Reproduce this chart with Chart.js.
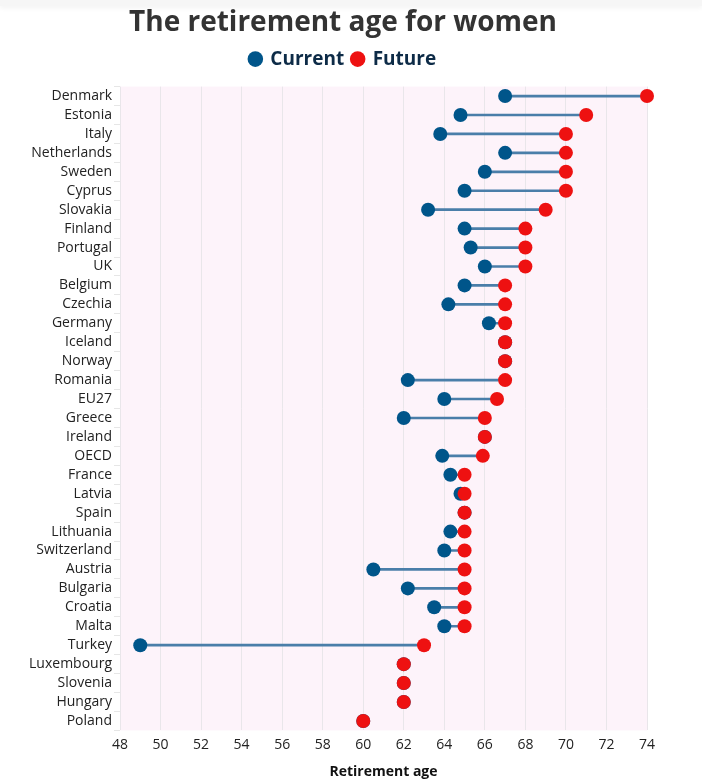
<!DOCTYPE html>
<html>
<head>
<meta charset="utf-8">
<script src="https://cdn.jsdelivr.net/npm/chart.js@4"></script>
<style>
  html, body { margin: 0; padding: 0; background: #fff; }
  #wrap { position: relative; width: 702px; height: 782px; }
  #topbar { position: absolute; left: 0; top: 0; width: 702px; height: 6px;
            background: #f6f6f6; box-shadow: 0 2px 5px rgba(0,0,0,0.05); z-index: 2; }
</style>
</head>
<body>
<div id="wrap">
  <div id="topbar"></div>
  <canvas id="chart"></canvas>
</div>
<script>
// data
const countries = ['Denmark', 'Estonia', 'Italy', 'Netherlands', 'Sweden', 'Cyprus', 'Slovakia',
    'Finland', 'Portugal', 'UK', 'Belgium', 'Czechia', 'Germany', 'Iceland', 'Norway', 'Romania',
    'EU27', 'Greece', 'Ireland', 'OECD', 'France', 'Latvia', 'Spain', 'Lithuania', 'Switzerland',
    'Austria', 'Bulgaria', 'Croatia', 'Malta', 'Turkey', 'Luxembourg', 'Slovenia', 'Hungary', 'Poland'];

const currentAge = [67, 64.8, 63.8, 67, 66, 65, 63.2,
    65, 65.3, 66, 65, 64.2, 66.2, 67, 67, 62.2,
    64, 62, 66, 63.9, 64.3, 64.8, 65, 64.3, 64,
    60.5, 62.2, 63.5, 64, 49, 62, 62, 62, 60];

const futureAge = [74, 71, 70, 70, 70, 70, 69,
    68, 68, 68, 67, 67, 67, 67, 67, 67,
    66.6, 66, 66, 65.9, 65, 65, 65, 65, 65,
    65, 65, 65, 65, 63, 62, 62, 62, 60];

const xTicks = [48, 50, 52, 54, 56, 58, 60, 62, 64, 66, 68, 70, 72, 74];

const blue = '#00558a';
const red = '#ee1111';
const FONT = "'Open Sans', sans-serif";

// pink plot background
const plotBg = {
    id: 'plotBg',
    beforeDraw(chart) {
        const { ctx, chartArea: a } = chart;
        ctx.save();
        ctx.fillStyle = '#fdf3fa';
        ctx.fillRect(a.left, a.top, a.right - a.left, a.bottom - a.top);
        ctx.restore();
    }
};

// invisible axis used only to reserve space
const spacer = (position, size) => ({
    type: 'linear',
    position: position,
    display: true,
    afterFit: scale => {
        if (scale.isHorizontal()) scale.height = size; else scale.width = size;
    },
    grid: { display: false },
    border: { display: false },
    ticks: { display: false },
});

const ctx = document.getElementById('chart').getContext('2d');
new Chart(ctx, {
    data: {
        labels: countries,
        datasets: [
            {
                type: 'bar',
                label: 'gap',
                data: countries.map((c, i) => [currentAge[i], futureAge[i]]),
                backgroundColor: '#4a7ea9',
                barThickness: 2,
                borderWidth: 0,
                order: 3,
            },
            {
                type: 'line',
                label: 'Current',
                data: currentAge,
                showLine: false,
                clip: false,
                pointRadius: 7,
                pointHoverRadius: 7,
                pointBorderWidth: 0,
                backgroundColor: blue,
                borderColor: blue,
                order: 2,
            },
            {
                type: 'line',
                label: 'Future',
                data: futureAge,
                showLine: false,
                clip: false,
                pointRadius: 7,
                pointHoverRadius: 7,
                pointBorderWidth: 0,
                backgroundColor: red,
                borderColor: red,
                order: 1,
            },
        ],
    },
    options: {
        indexAxis: 'y',
        responsive: true,
        maintainAspectRatio: false,
        animation: false,
        layout: { padding: { top: 0, right: 16, bottom: 2, left: 0 } },
        plugins: {
            title: {
                display: true,
                text: 'The retirement age for women',
                color: '#333',
                font: { family: FONT, size: 28, weight: 'bold' },
                padding: { top: 6, bottom: 2 },
            },
            legend: {
                display: true,
                position: 'top',
                labels: {
                    filter: item => item.text !== 'gap',
                    sort: (a, b) => a.datasetIndex - b.datasetIndex,
                    usePointStyle: true,
                    pointStyle: 'circle',
                    boxWidth: 11,
                    boxHeight: 11,
                    padding: 8,
                    color: '#0d2b47',
                    font: { family: FONT, size: 19, weight: 'bold' },
                },
            },
            tooltip: { enabled: false },
        },
        scales: {
            x: {
                type: 'linear',
                min: 48,
                max: 74,
                afterBuildTicks: scale => { scale.ticks = xTicks.map(v => ({ value: v })); },
                grid: { color: '#e9e6ea', drawTicks: false },
                border: { display: false },
                ticks: { color: '#222', padding: 6, font: { family: FONT, size: 14 } },
                title: {
                    display: true,
                    text: 'Retirement age',
                    color: '#111',
                    font: { family: FONT, size: 14, weight: 'bold' },
                    padding: { top: 4, bottom: 0 },
                },
            },
            y: {
                type: 'category',
                offset: true,
                afterFit: scale => { scale.width = 120; },
                grid: { drawOnChartArea: false, tickLength: 6, color: '#e6e6e6' },
                border: { display: false },
                ticks: { color: '#222', padding: 2, autoSkip: false, font: { family: FONT, size: 14 } },
            },
            // empty spacers so the plot sits where it does in the reference
            spacerRight: spacer('right', 39),
            spacerTop: spacer('top', 8),
        },
    },
    plugins: [plotBg],
});
</script>
</body>
</html>
